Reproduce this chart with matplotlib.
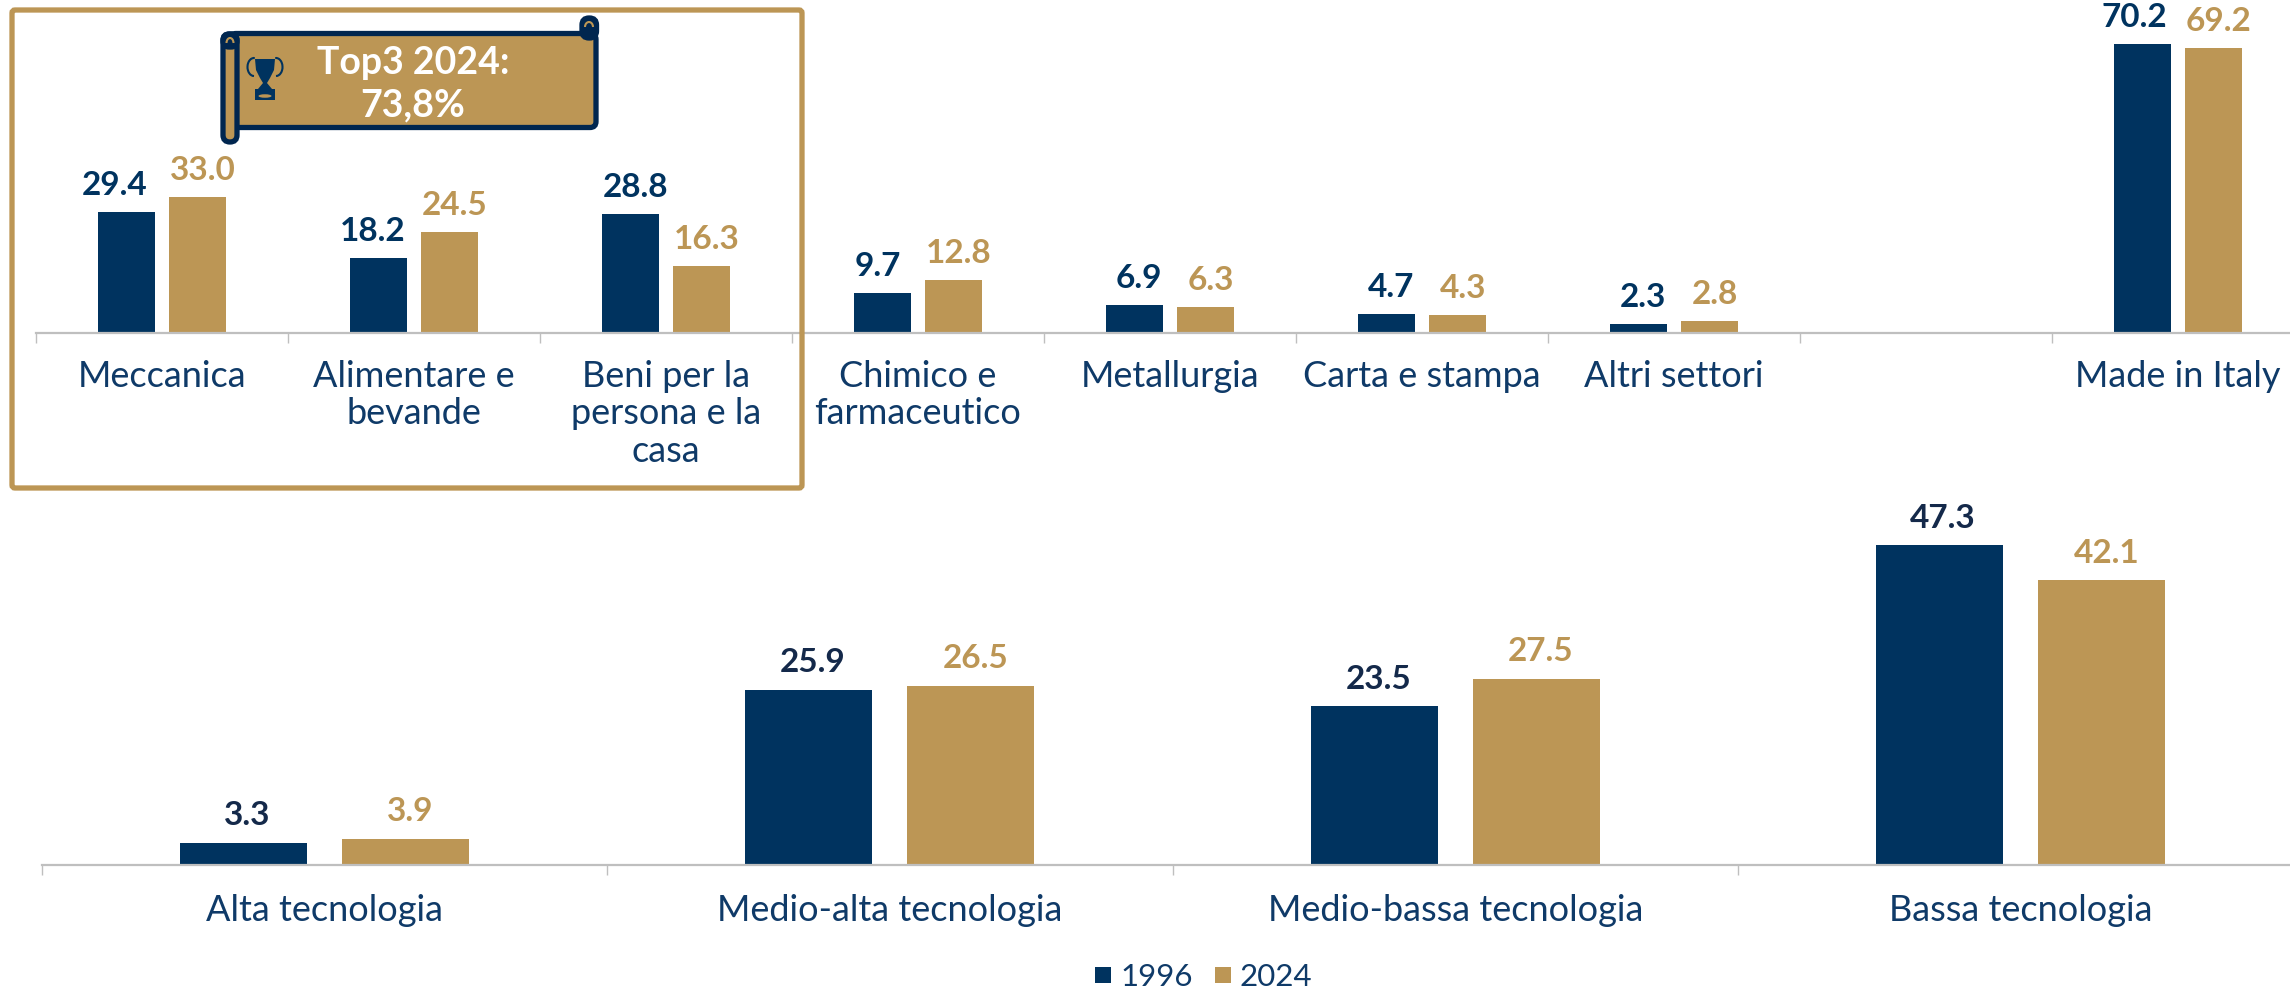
import numpy as np
import matplotlib
matplotlib.use("Agg")
import matplotlib.pyplot as plt
from matplotlib.patches import FancyBboxPatch, Rectangle, Polygon, Arc, Ellipse
from matplotlib.lines import Line2D

plt.rcParams['font.family'] = ['Lato', 'DejaVu Sans']

NAVY = '#00335F'
NAVY_DK = '#00264F'
GOLD = '#BC9655'
GREY = '#BFBFBF'
LABEL = '#0F3A68'

sectors = ['Meccanica', 'Alimentare e\nbevande', 'Beni per la\npersona e la\ncasa',
           'Chimico e\nfarmaceutico', 'Metallurgia', 'Carta e stampa', 'Altri settori',
           '', 'Made in Italy']
sector_1996 = [29.4, 18.2, 28.8, 9.7, 6.9, 4.7, 2.3, np.nan, 70.2]
sector_2024 = [33.0, 24.5, 16.3, 12.8, 6.3, 4.3, 2.8, np.nan, 69.2]

tech = ['Alta tecnologia', 'Medio-alta tecnologia', 'Medio-bassa tecnologia', 'Bassa tecnologia']
tech_1996 = [3.3, 25.9, 23.5, 47.3]
tech_2024 = [3.9, 26.5, 27.5, 42.1]

years = ['1996', '2024']
banner_lines = 'Top3 2024:\n73,8%'

# horizontal nudges (pixels) of the value labels of the first series
nudge_top = [-12, -6, 5, -4, 5, 5, 5, 0, -8]
nudge_low = [4, 4, 4, 3]

W, H = 2290, 987
PT = 72 / 100  # points per pixel
fig = plt.figure(figsize=(W / 100, H / 100), dpi=100, facecolor='white')


def axes_px(x0, x1, ytop, ybase):
    return fig.add_axes([x0 / W, 1 - ybase / H, (x1 - x0) / W, (ybase - ytop) / H])


def draw(ax, cats, a, b, ymax, width, offset, lab_col, fs_val, lift_px, fs_cat, cat_pad, nudge):
    n = len(cats)
    x = np.arange(n) + 0.5
    ax.bar(x - offset, a, width, color=NAVY, linewidth=0)
    ax.bar(x + offset, b, width, color=GOLD, linewidth=0)
    for xi, v1, v2, dx in zip(x, a, b, nudge):
        if np.isnan(v1):
            continue
        ax.annotate(f'{v1:.1f}', (xi - offset, v1), xytext=(dx * PT, lift_px * PT), textcoords='offset points',
                    ha='center', va='baseline', color=lab_col, fontsize=fs_val, fontweight='bold')
        ax.annotate(f'{v2:.1f}', (xi + offset, v2), xytext=(5 * PT, lift_px * PT), textcoords='offset points',
                    ha='center', va='baseline', color=GOLD, fontsize=fs_val, fontweight='bold')
    ax.set_xlim(0, n)
    ax.set_ylim(0, ymax)
    ax.patch.set_alpha(0)
    for s in ('top', 'left', 'right'):
        ax.spines[s].set_visible(False)
    ax.spines['bottom'].set_color(GREY)
    ax.spines['bottom'].set_linewidth(1.6)
    ax.yaxis.set_visible(False)
    ax.set_xticks(np.arange(n + 1), minor=True)
    ax.tick_params(axis='x', which='minor', length=7, width=1.0, color=GREY)
    ax.set_xticks(x)
    ax.set_xticklabels(cats, fontsize=fs_cat, color=LABEL, linespacing=1.17)
    ax.tick_params(axis='x', which='major', length=0, pad=cat_pad)


top = axes_px(36, 2304, 0, 334)
draw(top, sectors, sector_1996, sector_2024, 334 / 4.115, 56.5 / 252, 35.7 / 252,
     NAVY, 24, 18, 26, 18.5, nudge_top)

low = axes_px(41.5, 2303.5, 480, 866)
draw(low, tech, tech_1996, tech_2024, 386 / 6.765, 127 / 565.5, 80.8 / 565.5,
     '#14294A', 24, 18.5, 26, 20, nudge_low)

# overlay in pixel coordinates for the frame, banner and trophy
ov = fig.add_axes([0, 0, 1, 1], zorder=5)
ov.set_xlim(0, W)
ov.set_ylim(H, 0)
ov.axis('off')
ov.patch.set_alpha(0)

ov.add_patch(FancyBboxPatch((12, 11), 790, 478, boxstyle='round,pad=0,rounding_size=3',
                            fc='none', ec=GOLD, lw=3.8))

# banner body
lw_b = 3.8
ov.add_patch(FancyBboxPatch((230, 34.5), 366, 94, boxstyle='round,pad=0,rounding_size=6',
                            fc=GOLD, ec=NAVY_DK, lw=lw_b))
# top-right curl
ov.add_patch(FancyBboxPatch((582, 19), 14.5, 20, boxstyle='round,pad=0,rounding_size=7',
                            fc=NAVY_DK, ec=NAVY_DK, lw=lw_b))
ov.add_patch(Arc((589, 28), 8, 10, theta1=180, theta2=360, ec=GOLD, lw=1.5))
# left roller
ov.add_patch(FancyBboxPatch((223, 35), 14, 108, boxstyle='round,pad=0,rounding_size=7',
                            fc=GOLD, ec=NAVY_DK, lw=lw_b))
ov.add_patch(FancyBboxPatch((223, 35), 14, 13, boxstyle='round,pad=0,rounding_size=6',
                            fc=NAVY_DK, ec=NAVY_DK, lw=lw_b))
ov.add_patch(Arc((230, 44), 7, 10, theta1=180, theta2=360, ec=GOLD, lw=1.5))

ov.text(413, 84, banner_lines, color='white', fontsize=27, fontweight='bold',
        ha='center', va='center', linespacing=1.3)

# trophy
ov.add_patch(Polygon([(255, 60), (275, 60), (274, 71), (270, 79), (267, 84), (263, 84), (260, 79), (256, 71)],
                     closed=True, fc=NAVY, ec='none'))
ov.add_patch(Polygon([(263, 84), (267, 84), (272, 90), (258, 90)], closed=True, fc=NAVY, ec='none'))
ov.add_patch(Rectangle((255, 90), 20, 11, fc=NAVY, ec='none'))
ov.add_patch(Ellipse((265, 97), 13, 3.5, fc=GOLD, ec='none'))
ov.add_patch(Arc((254, 68), 13, 18, theta1=90, theta2=275, ec=NAVY, lw=1.5))
ov.add_patch(Arc((276, 68), 13, 18, theta1=-95, theta2=90, ec=NAVY, lw=1.5))

handles = [Line2D([], [], ls='none', marker='s', ms=12, color=NAVY, mew=0),
           Line2D([], [], ls='none', marker='s', ms=12, color=GOLD, mew=0)]
fig.legend(handles, years, loc='center', bbox_to_anchor=(1200 / W, 1 - 977.5 / H), ncol=2,
           frameon=False, fontsize=22.5, labelcolor=LABEL, handletextpad=0.05, columnspacing=0.45,
           handlelength=1.0, borderpad=0, borderaxespad=0)

fig.savefig('out.png', dpi=100)
